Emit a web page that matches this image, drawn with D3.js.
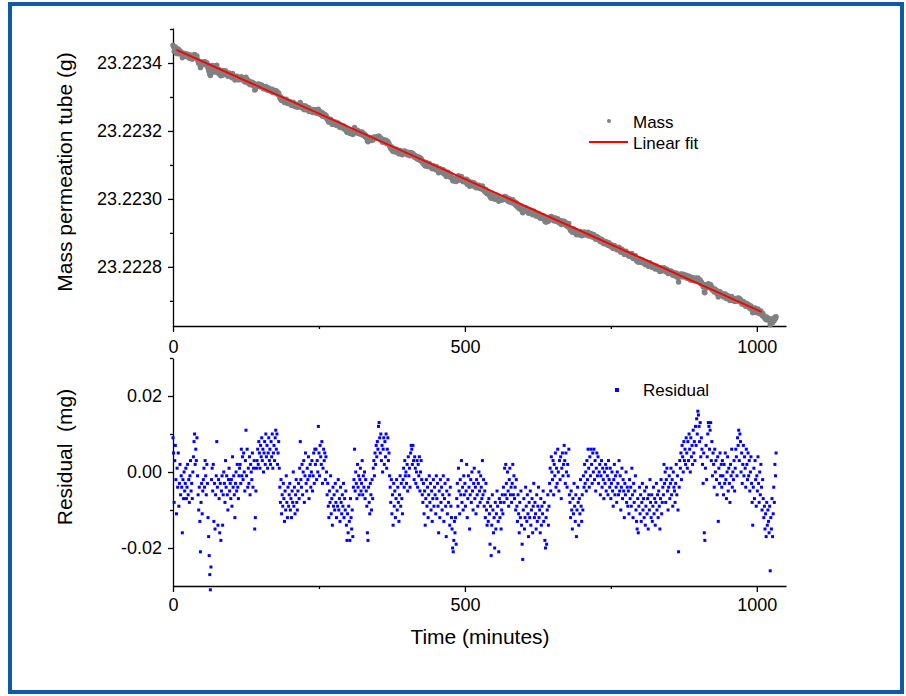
<!DOCTYPE html>
<html>
<head>
<meta charset="utf-8">
<script src="https://cdn.jsdelivr.net/npm/d3@7"></script>
<style>
  body { margin: 0; background: #fff; }
  text { font-family: "Liberation Sans", Arial, sans-serif; }
</style>
</head>
<body>
<div id="chart"></div>
<script>
// residuals, in micrograms, one sample per minute from t = 0
var residualUg = [
  9, 5, -8, 3, 7, -2, -11, 1, -4, 5, -9, -3, 2, -6, -1, -4, -16, -2, -7, 0,
  -5, -3, 1, -7, -4, 2, -6, -2, -8, -1, 3, -5, -3, -7, 0, 4, 8, 10, 2, 6,
  3, 9, -1, -6, -10, -4, -13, -21, -8, -3, -11, -5, -2, 1, -4, 3, -1, -6, 2, -3,
  -12, -17, -22, -27, -31, -25, -2, 1, -5, 2, -13, -3, -15, -6, -1, 8, -4, -14, -2, -7,
  -16, -3, -18, -5, -1, -14, -6, 0, -3, -8, 3, -4, -1, -6, -10, -2, 1, -5, -3, -7,
  -2, -9, 4, -4, -1, -6, -12, -3, 0, -5, 2, -4, -7, -1, 1, 2, -3, 6, -1, 4,
  -2, 5, 0, -5, 3, 11, -1, 6, -4, 1, -3, 4, -6, 2, 0, -2, 5, -4, 1, 3,
  -15, -12, -5, 1, 3, 6, 2, 8, 5, 1, 7, 4, 9, 3, 6, 0, 5, 8, 2, 10,
  4, 7, 1, 5, 9, 3, 6, 2, 8, 4, 10, 1, 5, 7, 3, 9, 11, 6, 10, 2,
  5, 8, 1, -4, -8, -2, -11, -6, -9, -3, -7, -13, -5, -10, -1, -8, -12, -4, -9, -6,
  -3, -10, -7, -12, -5, -8, 0, -9, -4, -11, -6, -2, -8, -10, -5, -3, -7, 1, 8, -2,
  -4, 2, -6, 0, 3, -8, -1, 5, -3, -5, 1, -2, 4, -7, -1, 2, -4, 0, 3, -5,
  -1, 5, -3, 6, 2, 6, -2, 3, 0, 12, 5, -1, 7, 4, 2, 8, -3, 1, 6, 3,
  5, -2, 4, 0, -6, -3, -9, -12, -5, -8, -1, -11, -7, -14, -4, -9, -6, -10, -3, -8,
  -12, -5, -9, -2, -10, -7, -13, -4, -8, -11, -6, -9, -3, -12, -7, -10, -5, -14, -18, -11,
  -16, -9, -13, -18, -7, -12, -15, -10, -17, -4, -2, 6, -5, 0, -3, -7, 2, -4, -1, -6,
  -2, 1, -5, -3, 3, -6, -1, -4, 0, -7, -2, -5, -9, -16, -18, -4, -8, -11, -3, -6,
  -10, -2, -7, 1, 3, -1, 5, 2, 7, 4, 8, 6, 12, 13, 9, 5, 10, 3, 7, 0,
  6, 9, 2, 8, 4, 10, 1, 6, 9, 3, 5, -1, -4, -8, -2, -11, -6, -14, -3, -9,
  -5, -12, -7, -2, -10, -4, -8, -13, -6, -1, -9, -3, -7, -11, -2, 1, -4, 3, -1, 0,
  -3, 2, -5, 4, -1, 1, -4, 5, 7, 6, 2, 7, 3, -2, 4, 1, -3, 0, 3, -4,
  2, -1, 4, -5, 0, 3, -2, -6, -8, -3, -11, -5, -14, -7, -2, -9, -4, -12, -6, -1,
  -8, -3, -10, -5, -13, -7, -2, -9, -4, -6, -11, -1, -7, -3, -9, -16, -5, -12, -2, -8,
  -4, -10, -6, -1, -13, -7, -3, -9, -17, -5, -11, -2, -8, -6, -14, -4, -9, -12, -15, -20,
  -21, -18, -13, -16, -12, -19, -7, -3, -9, 1, -5, -11, -2, -6, 3, -8, -4, -10, -1, -6,
  -3, -9, -5, 2, -12, -7, -1, -4, -15, -6, -2, -8, 0, -5, -10, -3, 1, -7, -4, -11,
  -2, -6, -9, -3, 0, -5, -8, -1, -4, -7, 3, -6, -2, -9, -5, -12, -3, -10, -14, -8,
  -13, -7, -11, -19, -9, -22, -14, -6, -10, -16, -12, -20, -8, -15, -11, -5, -9, -13, -21, -7,
  -12, -8, -15, -10, -6, -11, -4, -8, 1, -6, 2, -3, -7, 0, -5, -9, -2, 1, -6, -4,
  -8, -3, 2, -6, -1, -7, -4, -10, -2, -9, -13, -6, -11, -16, -8, -12, -5, -14, -19, -23,
  -10, -7, -15, -12, -4, -9, -13, -6, -11, -17, -8, -12, -5, -14, -10, -7, -16, -9, -3, -12,
  -8, -11, -15, -6, -13, -9, -4, -12, -10, -16, -7, -14, -9, -11, -5, -13, -8, -18, -20, -12,
  -19, -10, -6, -14, -9, -3, 1, -5, 4, 0, -2, 3, -6, 2, -1, 5, -4, 1, -3, 6,
  0, -5, 3, -2, 4, -7, 1, 5, -1, 2, 7, 3, -3, 5, 0, -4, 2, -1, 6, -6,
  -8, -12, -5, -10, -15, -7, -11, -3, -9, -13, -6, -17, -10, -4, -8, -14, -7, -11, -2, -9,
  -13, -6, -10, -1, -4, 2, -3, 0, -5, 3, -2, 6, 1, -4, 4, -1, 6, 2, -3, 5,
  0, 6, -2, 3, -5, 1, 5, -1, 4, -3, 0, 2, -6, -1, 3, -4, 1, -2, -7, 0,
  -3, 2, -5, 1, -1, -6, 3, -2, -4, 1, -7, -3, 0, -5, -9, -2, 2, -6, -1, -4,
  -8, 0, -3, -6, 3, -5, -1, -10, -4, 1, -7, -2, -5, -12, -3, -6, 0, -8, -4, -9,
  -5, -11, -2, -7, -4, -9, 1, -6, -12, -3, -8, -5, -1, -10, -13, -15, -7, -16, -9, -4,
  -11, -6, -13, -8, -3, -10, -7, -12, -5, -14, -9, -4, -11, -7, -15, -6, -10, -2, -8, -12,
  -6, -13, -9, -4, -11, -7, -14, -8, -3, -10, -6, -12, -5, -9, -15, -7, -2, -11, -8, -4,
  -6, 2, -3, 0, -8, -2, 1, -5, -10, -4, -1, -7, -3, 1, -6, -2, -9, 0, -4, -5,
  -8, -3, 2, -6, -1, -10, -21, -4, 3, 1, 5, -2, 7, 4, 0, 8, 3, 6, 2, 9,
  5, 1, 8, 3, 10, 6, 0, 9, 4, 7, 2, 11, 5, 8, 3, 12, 7, 14, 10, 16,
  15, 12, 8, 13, 4, 9, 6, 2, -3, 5, -16, -18, 1, 7, -2, 4, 10, 13, 12, 6,
  11, 13, 3, 8, -1, 5, 2, -4, 6, 0, 3, -2, -6, 4, -13, 1, -3, 5, -1, 2,
  -4, 3, -1, -6, 2, -3, 5, -2, -7, 0, 4, -5, 1, -3, -8, 2, -1, 6, -4, 0,
  -2, 3, -5, 1, 6, 4, -1, 9, 7, 11, 3, 10, 8, 0, 5, -3, 2, 7, -1, 4,
  1, -4, 6, 2, -2, 5, -1, 3, -5, 0, 4, -3, -8, -14, -4, 1, -7, 3, -2, -9,
  -1, -5, 4, -3, -8, 0, -6, 2, -4, -10, -2, -7, -12, -9, -15, -11, -17, -8, -14, -10,
  -13, -16, -9, -26, -12, -15, -7, -17, -11, -4, -8, 2, -1, 5
];
var sampleStep = 1; // minutes

// linear fit (g, g/min)
var fitIntercept = 23.2234435;
var fitSlope = -7.70e-7;
var fitRange = [6, 1008];

var massTicks = [23.2228, 23.2230, 23.2232, 23.2234];
var massMinor = [23.2227, 23.2229, 23.2231, 23.2233, 23.2235];
var resTicks = [-0.02, 0.00, 0.02];
var resMinor = [-0.01, 0.01, 0.03];
var timeTicks = [0, 500, 1000];
var timeMinor = [250, 750];

var font = '"Liberation Sans", Arial, sans-serif';

var svg = d3.select("#chart")
  .append("svg")
    .attr("width", 906)
    .attr("height", 696);

// blue frame
svg.append("rect")
  .attr("x", 10).attr("y", 4)
  .attr("width", 892).attr("height", 688)
  .attr("fill", "none")
  .attr("stroke", "#0e5aa3")
  .attr("stroke-width", 4);

var x = d3.scaleLinear().domain([0, 1050]).range([173, 786]);
var yMass = d3.scaleLinear().domain([23.222626, 23.223503]).range([326, 28]);
var yRes = d3.scaleLinear().domain([-0.03, 0.03]).range([586, 358]);

var data = residualUg.map(function(r, i) {
  var t = i * sampleStep;
  return { t: t, res: r / 1000, mass: fitIntercept + fitSlope * t + r * 1e-6 };
});

function styleAxis(g, size) {
  g.attr("font-family", font).attr("font-size", size);
  g.select(".domain").attr("stroke", "#000").attr("stroke-width", 1.3);
  g.selectAll(".tick line").attr("stroke", "#000").attr("stroke-width", 1.3);
  g.selectAll(".tick text").attr("fill", "#000");
}

function addAxes(yScale, yTicks, yMinor, yFmt, xAxisY, xPad) {
  // minor ticks first
  svg.append("g")
    .attr("transform", "translate(0," + xAxisY + ")")
    .call(d3.axisBottom(x).tickValues(timeMinor).tickSize(3).tickFormat(""))
    .call(function(g) { g.select(".domain").remove(); g.selectAll("line").attr("stroke", "#000").attr("stroke-width", 1.3); });
  svg.append("g")
    .attr("transform", "translate(173,0)")
    .call(d3.axisLeft(yScale).tickValues(yMinor).tickSize(3).tickFormat(""))
    .call(function(g) { g.select(".domain").remove(); g.selectAll("line").attr("stroke", "#000").attr("stroke-width", 1.3); });

  svg.append("g")
    .attr("transform", "translate(0," + xAxisY + ")")
    .call(d3.axisBottom(x).tickValues(timeTicks).tickSize(6).tickPadding(xPad).tickSizeOuter(0).tickFormat(d3.format("d")))
    .call(function(g) { styleAxis(g, 18); });

  svg.append("g")
    .attr("transform", "translate(173,0)")
    .call(d3.axisLeft(yScale).tickValues(yTicks).tickSize(5).tickPadding(6).tickSizeOuter(0).tickFormat(yFmt))
    .call(function(g) { styleAxis(g, 18); });
}

addAxes(yMass, massTicks, massMinor, function(d) { return d.toFixed(4); }, 326, 8);
addAxes(yRes, resTicks, resMinor, function(d) { return d.toFixed(2); }, 586, 6);

// upper panel: mass points and fit line
svg.append("g").selectAll("circle")
  .data(data)
  .enter()
  .append("circle")
    .attr("cx", function(d) { return x(d.t); })
    .attr("cy", function(d) { return yMass(d.mass); })
    .attr("r", 2.7)
    .attr("fill", "#808080");

var fitLine = d3.line()
  .x(function(t) { return x(t); })
  .y(function(t) { return yMass(fitIntercept + fitSlope * t); });

svg.append("path")
  .attr("d", fitLine(fitRange))
  .attr("fill", "none")
  .attr("stroke", "#ff0000")
  .attr("stroke-width", 2);

// lower panel: residual squares
svg.append("g").selectAll("rect")
  .data(data)
  .enter()
  .append("rect")
    .attr("x", function(d) { return x(d.t) - 1.5; })
    .attr("y", function(d) { return yRes(d.res) - 1.5; })
    .attr("width", 3)
    .attr("height", 3)
    .attr("fill", "#0000ff");

// axis titles
svg.append("text")
  .attr("transform", "translate(72,172) rotate(-90)")
  .attr("text-anchor", "middle")
  .style("font-size", "21px")
  .text("Mass permeation tube (g)");

svg.append("text")
  .attr("transform", "translate(72,457) rotate(-90)")
  .attr("text-anchor", "middle")
  .style("font-size", "21px")
  .style("white-space", "pre")
  .text("Residual  (mg)");

svg.append("text")
  .attr("x", 480)
  .attr("y", 644)
  .attr("text-anchor", "middle")
  .style("font-size", "21px")
  .text("Time (minutes)");

// legends
svg.append("circle").attr("cx", 609).attr("cy", 121).attr("r", 2).attr("fill", "#808080");
svg.append("text").attr("x", 633).attr("y", 128).style("font-size", "17px").text("Mass");
svg.append("line")
  .attr("x1", 589).attr("x2", 628).attr("y1", 142).attr("y2", 142)
  .attr("stroke", "#ff0000").attr("stroke-width", 2);
svg.append("text").attr("x", 633).attr("y", 149).style("font-size", "17px").text("Linear fit");

svg.append("rect").attr("x", 615).attr("y", 388).attr("width", 4).attr("height", 4).attr("fill", "#0000ff");
svg.append("text").attr("x", 643).attr("y", 396).style("font-size", "17px").text("Residual");
</script>
</body>
</html>
